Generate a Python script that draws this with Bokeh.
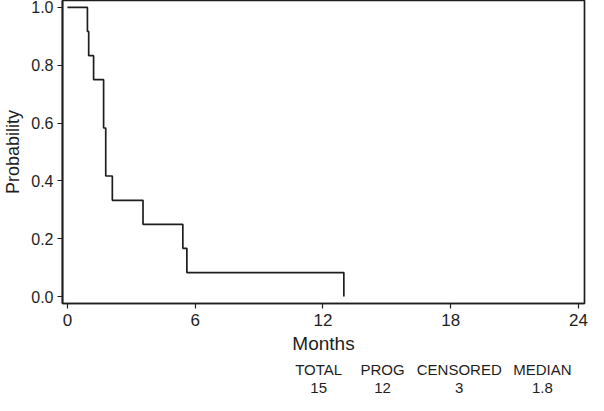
from bokeh.plotting import figure
from bokeh.models import FixedTicker, PrintfTickFormatter, Range1d, LinearAxis
from bokeh.embed import file_html
from bokeh.resources import INLINE

# Kaplan-Meier curve
months = [0.0, 0.94, 1.0, 1.23, 1.70, 1.80, 2.11, 3.55, 5.42, 5.61, 12.98]
probability = [1.0, 0.917, 0.833, 0.75, 0.583, 0.417, 0.333, 0.25, 0.167, 0.083, 0.0]

x_ticks = [0, 6, 12, 18, 24]
y_ticks = [0.0, 0.2, 0.4, 0.6, 0.8, 1.0]

table_headers = ["TOTAL", "PROG", "CENSORED", "MEDIAN"]
table_values = ["15", "12", "3", "1.8"]
table_centers = [11.8, 14.8, 18.4, 22.3]  # column centres in months units

FONT = "Liberation Sans"
INK = "#1e1e1e"

p = figure(width=588, height=395, output_backend="svg", toolbar_location=None,
           x_range=Range1d(-0.23, 24.28), y_range=Range1d(-0.024, 1.024),
           min_border_left=0, min_border_right=4, min_border_top=0, min_border_bottom=0)

p.step(months, probability, mode="after", line_color=INK, line_width=1.7)

p.grid.visible = False
p.background_fill_color = "white"
p.border_fill_color = "white"
p.outline_line_color = INK
p.outline_line_width = 1.7


def style(ax):
    ax.axis_line_color = INK
    ax.axis_line_width = 1.7
    ax.major_tick_line_color = INK
    ax.major_tick_line_width = 1.2
    ax.major_tick_in = 0
    ax.major_tick_out = 5
    ax.minor_tick_line_color = None
    ax.major_label_text_font = FONT
    ax.major_label_text_color = INK
    ax.axis_label_text_font = FONT
    ax.axis_label_text_color = INK
    ax.axis_label_text_font_style = "normal"


style(p.xaxis[0])
style(p.yaxis[0])

p.xaxis.ticker = FixedTicker(ticks=x_ticks)
p.yaxis.ticker = FixedTicker(ticks=y_ticks)
p.yaxis.formatter = PrintfTickFormatter(format="%.1f")

p.xaxis.major_label_text_font_size = "17px"
p.yaxis.major_label_text_font_size = "16px"
p.xaxis.major_label_standoff = 5
p.yaxis.major_label_standoff = 4

p.xaxis.axis_label = "Months"
p.yaxis.axis_label = "Probability"
p.xaxis.axis_label_text_font_size = "19px"
p.yaxis.axis_label_text_font_size = "18px"
p.xaxis.axis_label_standoff = 4
p.yaxis.axis_label_standoff = 5

# summary table rendered as two label-only axes below the x axis
for row, standoff in ((table_headers, 4), (table_values, 2)):
    ax = LinearAxis(ticker=FixedTicker(ticks=table_centers),
                    major_label_overrides={c: t for c, t in zip(table_centers, row)})
    ax.axis_line_color = None
    ax.major_tick_line_color = None
    ax.minor_tick_line_color = None
    ax.major_tick_in = 0
    ax.major_tick_out = 0
    ax.major_label_standoff = standoff
    ax.major_label_text_font = FONT
    ax.major_label_text_font_size = "15px"
    ax.major_label_text_color = INK
    p.add_layout(ax, "below")

open("out.html", "w").write(file_html(p, INLINE))
